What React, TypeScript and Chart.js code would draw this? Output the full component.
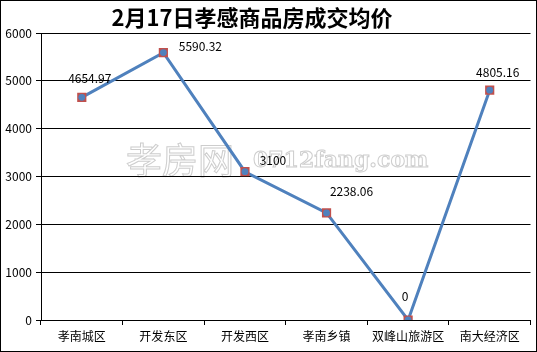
import React, { useEffect, useRef } from "react";
import { Chart, registerables } from "chart.js";

Chart.register(...registerables);

const categories = ["孝南城区", "开发东区", "开发西区", "孝南乡镇", "双峰山旅游区", "南大经济区"];
const prices = [4654.97, 5590.32, 3100, 2238.06, 0, 4805.16];
const priceLabels = ["4654.97", "5590.32", "3100", "2238.06", "0", "4805.16"];
const yTicks = [0, 1000, 2000, 3000, 4000, 5000, 6000];
const titleText = "2月17日孝感商品房成交均价";

const FONT = '"Noto Sans CJK SC", "Noto Sans", sans-serif';
// label placement relative to each point (dx, dy in px)
const labelOffsets = [
  [8, -19],
  [37, -6],
  [28, -11],
  [25, -22],
  [-3, -24],
  [8, -18],
];

const framePlugin = {
  id: "frame",
  beforeDraw(chart: any) {
    const ctx = chart.ctx;
    ctx.save();
    ctx.fillStyle = "#ffffff";
    ctx.fillRect(0, 0, chart.width, chart.height);
    // watermark
    ctx.strokeStyle = "rgba(200,200,200,0.9)";
    ctx.fillStyle = "rgba(255,255,255,0.6)";
    ctx.lineWidth = 1;
    ctx.textBaseline = "middle";
    ctx.textAlign = "left";
    ctx.font = `36px ${FONT}`;
    ctx.fillText("孝房网", 126, 160);
    ctx.strokeText("孝房网", 126, 160);
    ctx.font = `bold 22px "DejaVu Serif", serif`;
    ctx.fillText("0712fang.com", 253, 161);
    ctx.strokeText("0712fang.com", 253, 161);
    ctx.restore();
  },
  afterDraw(chart: any) {
    const ctx = chart.ctx;
    ctx.save();
    ctx.strokeStyle = "#000000";
    ctx.lineWidth = 1;
    ctx.strokeRect(0.5, 0.5, chart.width - 1, chart.height - 1);
    // title
    ctx.fillStyle = "#000000";
    ctx.font = `bold 22px ${FONT}`;
    ctx.textAlign = "center";
    ctx.textBaseline = "middle";
    ctx.fillText(titleText, 252, 18);
    // data labels
    const meta = chart.getDatasetMeta(0);
    ctx.font = `12px ${FONT}`;
    meta.data.forEach((pt: any, i: number) => {
      const [dx, dy] = labelOffsets[i];
      ctx.fillText(priceLabels[i], pt.x + dx, pt.y + dy);
    });
    ctx.restore();
  },
};

export default function App() {
  const ref = useRef<HTMLCanvasElement>(null);
  useEffect(() => {
    document.body.style.margin = "0";
    const chart = new Chart(ref.current!, {
      type: "line",
      data: {
        labels: categories,
        datasets: [
          {
            data: prices,
            borderColor: "#4F81BD",
            borderWidth: 3,
            pointStyle: "rect",
            pointRadius: 6.5,
            pointBackgroundColor: "#C0504D",
            pointBorderColor: "#C0504D",
            pointBorderWidth: 0,
            tension: 0,
            order: 2,
          },
          {
            data: prices,
            showLine: false,
            pointStyle: "circle",
            pointRadius: 3.4,
            pointBackgroundColor: "#4F81BD",
            pointBorderWidth: 0,
            order: 1,
          },
        ],
      },
      options: {
        responsive: false,
        animation: false,
        layout: { padding: { top: 33, right: 4, left: 0, bottom: 0 } },
        plugins: {
          legend: { display: false },
          tooltip: { enabled: false },
          title: { display: false },
        },
        scales: {
          x: {
            offset: true,
            grid: {
              offset: true,
              drawOnChartArea: false,
              drawTicks: true,
              tickLength: 5,
              color: "#000000",
            },
            border: { color: "#000000", width: 1 },
            ticks: {
              color: "#000000",
              font: { family: FONT, size: 12 },
              padding: 4,
              maxRotation: 0,
              autoSkip: false,
            },
            afterFit: (axis: any) => {
              axis.height = 32;
            },
          },
          y: {
            min: 0,
            max: 6000,
            afterBuildTicks: (axis: any) => {
              axis.ticks = yTicks.map((v) => ({ value: v }));
            },
            grid: {
              color: "#000000",
              lineWidth: 1,
              tickLength: 5,
            },
            border: { color: "#000000", width: 1 },
            ticks: {
              color: "#000000",
              font: { family: FONT, size: 12 },
              padding: 4,
              callback: (v: any) => String(v),
            },
            afterFit: (axis: any) => {
              axis.width = 41;
            },
          },
        },
      },
      plugins: [framePlugin],
    });
    return () => chart.destroy();
  }, []);
  return <canvas ref={ref} width={537} height={352} style={{ display: "block" }} />;
}
